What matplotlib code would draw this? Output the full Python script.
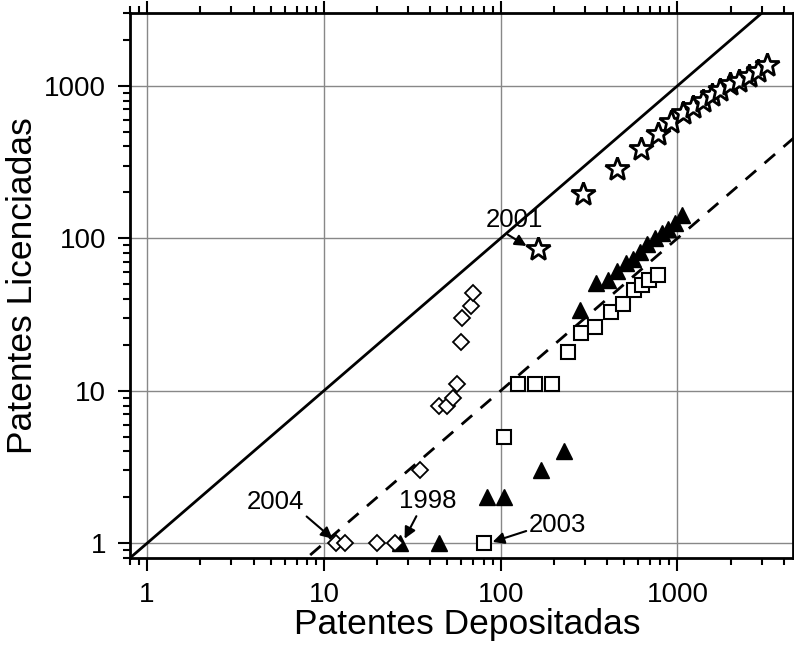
import matplotlib
matplotlib.use('Agg')
import matplotlib.pyplot as plt
import numpy as np
from matplotlib.ticker import LogLocator, NullFormatter, FixedLocator, FixedFormatter

plt.rcParams['font.family'] = ['Liberation Sans', 'DejaVu Sans']

# stars (open)
star_x = [162, 291, 454, 621, 772, 919, 1079, 1230, 1390, 1563, 1741, 1982, 2230, 2542, 2845, 3200]
star_y = [85, 196, 286, 384, 486, 583, 667, 728, 796, 867, 936, 1024, 1077, 1161, 1253, 1364]

# filled triangles
tri_x = [27, 45, 84, 105, 168, 227, 280, 345, 402, 453, 511, 557, 613, 675, 746, 813, 887, 968, 1056]
tri_y = [1, 1, 2, 2, 3, 4, 34, 51, 53, 61, 69, 73, 81, 92, 101, 108, 115, 125, 143]

# open squares
sq_x = [80, 104, 125, 156, 196, 239, 283, 341, 420, 493, 569, 627, 692, 779]
sq_y = [1, 5, 11, 11, 11, 18, 24, 26, 33, 37, 46, 49, 53, 57]

# open diamonds
dia_x = [11.7, 13.1, 19.9, 25.4, 34.8, 44.5, 49.9, 53.7, 56.9, 59.3, 60.7, 67.6, 69.7]
dia_y = [1, 1, 1, 1, 3, 8, 8, 9, 11, 21, 30, 36, 44]

ticks = [1, 10, 100, 1000]
tick_labels = ['1', '10', '100', '1000']

fig = plt.figure(figsize=(7.94, 6.52), dpi=100)
ax = fig.add_axes([0.1637, 0.1442, 0.835, 0.8358])

ax.set_xscale('log')
ax.set_yscale('log')
ax.set_xlim(0.8, 4500)
ax.set_ylim(0.8, 3000)

ax.grid(True, which='major', color='#888888', lw=1.0)
ax.set_axisbelow(True)

# reference lines y = x and y = x/10
lx = np.array([0.5, 10000])
ax.plot(lx, lx, color='black', lw=2.0)
ax.plot(lx, lx / 10, color='black', lw=2.0, dashes=(5, 4))

ax.plot(star_x, star_y, ls='none', marker='*', ms=18, mfc='white', mec='black', mew=2.0)
ax.plot(tri_x, tri_y, ls='none', marker='^', ms=11, mfc='black', mec='black', mew=1.0)
ax.plot(sq_x, sq_y, ls='none', marker='s', ms=10, mfc='white', mec='black', mew=1.5)
ax.plot(dia_x, dia_y, ls='none', marker='D', ms=8.5, mfc='white', mec='black', mew=1.3)

arr = dict(arrowstyle='-|>', color='black', lw=1.5, mutation_scale=17, shrinkA=0, shrinkB=0)
ax.annotate('2001', xy=(140, 89), xytext=(120, 132), fontsize=18.5, ha='center', va='center',
            arrowprops=dict(arr, relpos=(0.3, 0)))
ax.annotate('2004', xy=(11.2, 1.07), xytext=(5.3, 1.86), fontsize=18.5, ha='center', va='center',
            arrowprops=dict(arr, relpos=(1.0, 0)))
ax.annotate('1998', xy=(28.6, 1.07), xytext=(38.6, 1.88), fontsize=18.5, ha='center', va='center',
            arrowprops=dict(arr, relpos=(0.33, 0)))
ax.annotate('2003', xy=(90, 1.02), xytext=(210, 1.31), fontsize=18.5, ha='center', va='center',
            arrowprops=dict(arr, relpos=(0.0, 0.3)))

for a in (ax.xaxis, ax.yaxis):
    a.set_major_locator(FixedLocator(ticks))
    a.set_major_formatter(FixedFormatter(tick_labels))
    a.set_minor_locator(LogLocator(base=10, subs=np.arange(2, 10), numticks=20))
    a.set_minor_formatter(NullFormatter())

ax.tick_params(which='major', direction='out', length=9, width=1.5, labelsize=20, pad=8)
ax.tick_params(which='minor', direction='out', length=5, width=1.5)
ax.tick_params(which='both', top=True, right=True)

for s in ax.spines.values():
    s.set_linewidth(2.0)

ax.set_xlabel('Patentes Depositadas', fontsize=25.5)
ax.xaxis.set_label_coords(0.508, -0.092)
ax.set_ylabel('Patentes Licenciadas', fontsize=25.5, labelpad=4)

fig.savefig('out.png', dpi=100)
